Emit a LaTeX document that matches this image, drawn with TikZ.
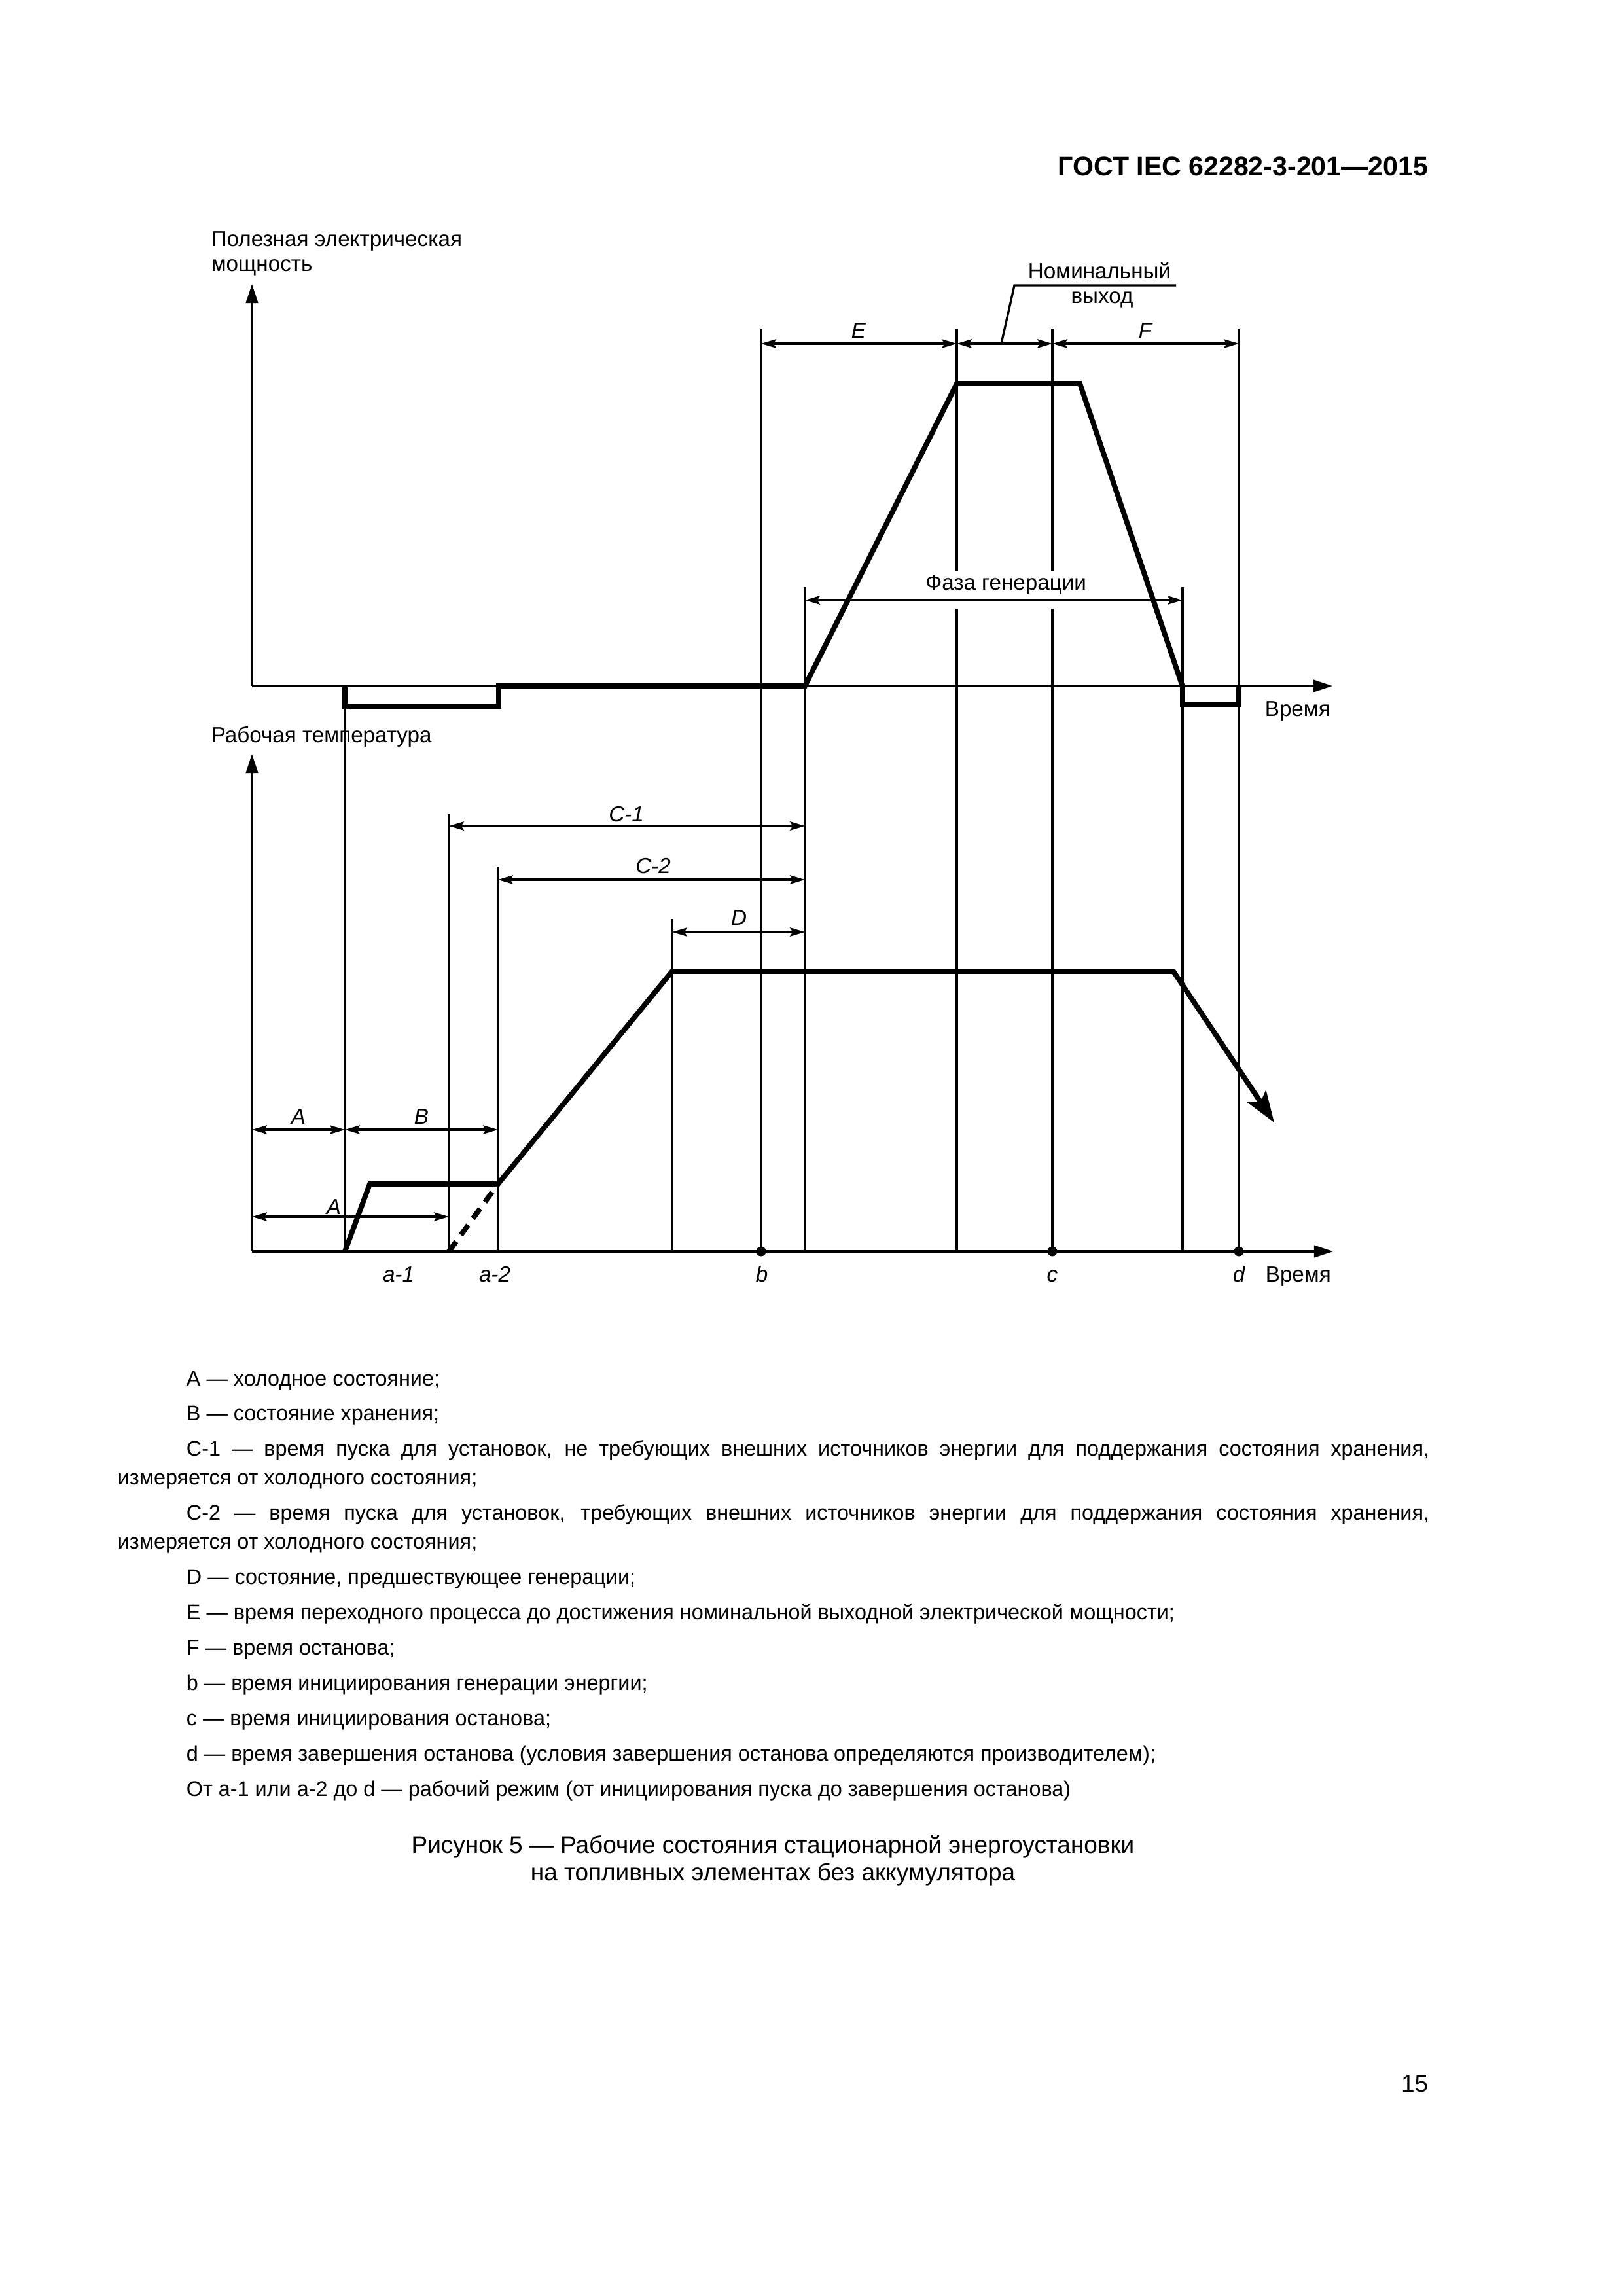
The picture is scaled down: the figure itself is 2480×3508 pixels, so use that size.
\documentclass[tikz,border=0pt]{standalone}
\usepackage{fontspec}
\setmainfont{Liberation Sans}
\usetikzlibrary{arrows.meta}

\begin{document}
\begin{tikzpicture}[x=0.0846774mm, y=-0.0846774mm,
  trait/.style={line width=0.8pt},
  axe/.style={trait, -{Triangle[length=7pt,width=4.4pt]}},
  courbe/.style={line width=1.9pt, line join=miter},
  cote/.style={trait, {Stealth[length=5.5pt,width=3.2pt,inset=1pt]}-{Stealth[length=5.5pt,width=3.2pt,inset=1pt]}},
  texte/.style={font=\fontsize{8}{9.6}\selectfont, inner sep=0pt},
  lettre/.style={texte, font=\fontsize{8}{9.6}\selectfont\itshape, anchor=base}]
\useasboundingbox (0,0) rectangle (2480,3508);

% En-tete
\node[font=\fontsize{9.9}{12}\selectfont\bfseries, inner sep=0pt, anchor=base east] (entete) at (2183,268) {ГОСТ IEC 62282-3-201—2015};

% Lignes de rappel
\foreach \xg/\yh in {527/1048, 686/1244, 761/1324, 1027/1404, 1163/503, 1230/897, 1807/897, 1893/503}
  \draw[trait] (\xg,\yh) -- (\xg,1912);
\foreach \xg in {1462,1608} {
  \draw[trait] (\xg,503) -- (\xg,872);
  \draw[trait] (\xg,930) -- (\xg,1912);
}

% Axes
\coordinate (O1) at (385,1048);
\coordinate (O2) at (385,1912);
\draw[axe] (O1) -- (385,434);
\draw[axe] (O1) -- (2036,1048);
\draw[axe] (O2) -- (385,1152);
\draw[axe] (O2) -- (2037,1912);

% Puissance
\draw[courbe] (527,1048) -- (527,1079) -- (762,1079) -- (762,1048) -- (1230,1048)
  -- (1462,586) -- (1650,586) -- (1807,1049) -- (1807,1076) -- (1893,1076) -- (1893,1048);

% Temperature
\draw[courbe, -{Stealth[length=11.5pt,width=8pt,inset=2.5pt]}] (527,1912) -- (565,1809) -- (761,1809)
  -- (1027,1484) -- (1793,1484) -- (1947,1715);
\draw[courbe, dash pattern=on 4.5pt off 3pt] (686,1912) -- (761,1809);

% Cotes
\draw[cote] (1163,525) -- (1462,525);
\draw[cote] (1462,525) -- (1608,525);
\draw[cote] (1608,525) -- (1893,525);
\draw[cote] (1230,917) -- (1807,917);
\draw[cote] (686,1262) -- (1230,1262);
\draw[cote] (761,1344) -- (1230,1344);
\draw[cote] (1027,1424) -- (1230,1424);
\draw[cote] (385,1726) -- (527,1726);
\draw[cote] (527,1726) -- (761,1726);
\draw[cote] (385,1859) -- (686,1859);
\draw[trait] (1797,436) -- (1550,436) -- (1530,525);

\foreach \xg in {1163,1608,1893}
  \fill (\xg,1912) circle (1.8pt);

% Textes
\node[texte, anchor=base west] (puiss) at (322,376) {Полезная электрическая};
\node[texte, anchor=base west] (puiss2) at (322,414) {мощность};
\node[texte, anchor=base west] (temp) at (322,1134) {Рабочая температура};
\node[texte, anchor=base west] (temps1) at (1932,1094) {Время};
\node[texte, anchor=base west] (temps2) at (1933,1958) {Время};
\node[texte, anchor=base] (nom) at (1680,425) {Номинальный};
\node[texte, anchor=base] (vyh) at (1684,463) {выход};
\node[texte, anchor=base] (phase) at (1537,901) {Фаза генерации};

\node[lettre] (E) at (1312,516) {E};
\node[lettre] (F) at (1750,516) {F};
\node[lettre] (C1) at (957,1255) {C-1};
\node[lettre] (C2) at (998,1334) {C-2};
\node[lettre] (D) at (1129,1413) {D};
\node[lettre] (A1) at (456,1717) {A};
\node[lettre] (B) at (644,1717) {B};
\node[lettre] (A2) at (510,1855) {A};
\node[lettre] (a1) at (609,1958) {a-1};
\node[lettre] (a2) at (756,1958) {a-2};
\node[lettre] (b) at (1164,1958) {b};
\node[lettre] (c) at (1608,1958) {c};
\node[lettre] (d) at (1893,1958) {d};

% Legende
\node[anchor=base west, inner sep=0pt, text width=169.7mm, align=justify,
  font=\fontsize{7.8}{10.6}\selectfont] (legende) at (179,2117) {%
\setlength{\parindent}{8.9mm}\setlength{\parskip}{2.4pt}%
\indent A — холодное состояние;\par
B — состояние хранения;\par
C-1 — время пуска для установок, не требующих внешних источников энергии для поддержания состояния хранения,\linebreak измеряется от холодного состояния;\par
C-2 — время пуска для установок, требующих внешних источников энергии для поддержания состояния хранения,\linebreak измеряется от холодного состояния;\par
D — состояние, предшествующее генерации;\par
E — время переходного процесса до достижения номинальной выходной электрической мощности;\par
F — время останова;\par
b — время инициирования генерации энергии;\par
c — время инициирования останова;\par
d — время завершения останова (условия завершения останова определяются производителем);\par
От a-1 или a-2 до d — рабочий режим (от инициирования пуска до завершения останова)};

\node[font=\fontsize{8.9}{10.5}\selectfont, inner sep=0pt, anchor=base] (titre1) at (1181,2831) {Рисунок 5 — Рабочие состояния стационарной энергоустановки};
\node[font=\fontsize{8.9}{10.5}\selectfont, inner sep=0pt, anchor=base] (titre2) at (1181,2873) {на топливных элементах без аккумулятора};

\node[font=\fontsize{8.9}{10.5}\selectfont, inner sep=0pt, anchor=base east] (page) at (2183,3196) {15};
\end{tikzpicture}
\end{document}
